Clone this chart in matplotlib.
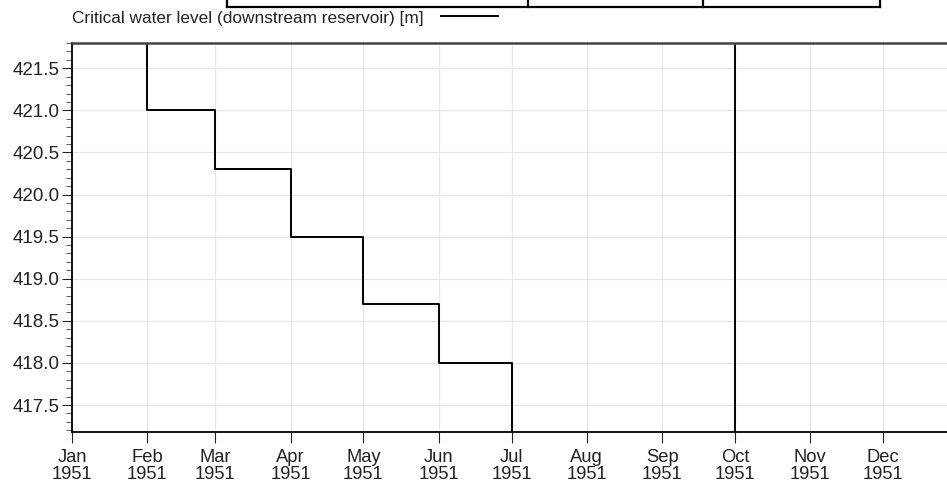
import numpy as np
import pandas as pd
import matplotlib
matplotlib.use("Agg")
import matplotlib.pyplot as plt
from matplotlib.lines import Line2D

plt.rcParams['font.family'] = ['Liberation Sans', 'DejaVu Sans']

# monthly critical water level, values outside the axis range run off the plot
months = ["1951-01-01", "1951-02-01", "1951-03-01", "1951-04-01", "1951-05-01", "1951-06-01",
          "1951-07-01", "1951-08-01", "1951-09-01", "1951-10-01", "1951-11-01", "1951-12-01",
          "1952-01-01"]
level = [422.0, 421.0, 420.3, 419.5, 418.7, 418.0,
         417.0, 417.0, 417.0, 422.0, 422.0, 422.0, 422.0]
month_labels = ["Jan\n1951", "Feb\n1951", "Mar\n1951", "Apr\n1951", "May\n1951", "Jun\n1951",
                "Jul\n1951", "Aug\n1951", "Sep\n1951", "Oct\n1951", "Nov\n1951", "Dec\n1951"]
y_ticks = [417.5, 418.0, 418.5, 419.0, 419.5, 420.0, 420.5, 421.0, 421.5]

dates = pd.to_datetime(months)

W, H = 947, 487
fig = plt.figure(figsize=(W / 100, H / 100), dpi=100)
ax = fig.add_axes([72 / W, 1 - 432 / H, 886.4 / W, (432 - 43) / H])

ax.plot(dates, level, drawstyle="steps-post", color="black", lw=1.4,
        label="Critical water level (downstream reservoir) [m]")

ax.set_xlim(dates[0], dates[-1])
ax.set_ylim(417.18, 421.78)

ax.set_xticks(dates[:-1])
ax.set_xticklabels(month_labels, fontsize=13.2, linespacing=1.05)
ax.set_yticks(y_ticks)
ax.set_yticklabels(["%.1f" % v for v in y_ticks], fontsize=13.5)
ax.set_yticks(np.arange(417.2, 421.8, 0.1), minor=True)

ax.tick_params(axis="x", direction="out", length=8, width=0.8, pad=4, colors="#222222")
ax.tick_params(axis="y", which="major", direction="out", length=7, width=0.8, pad=2, colors="#222222")
ax.tick_params(axis="y", which="minor", direction="out", length=4.5, width=0.6, color="#444444")

ax.grid(True, which="major", color="#e6e6e6", lw=0.8)
ax.set_axisbelow(True)

for s in ["left", "bottom"]:
    ax.spines[s].set_linewidth(1.3)
ax.spines["top"].set_linewidth(1.8)
ax.spines["top"].set_color("#444444")
ax.spines["right"].set_visible(False)

ax.legend(loc="center left", bbox_to_anchor=(72 / W, 1 - 18 / H),
          bbox_transform=fig.transFigure, frameon=False, markerfirst=False,
          fontsize=12.4, handlelength=3.3, handletextpad=1.0, borderpad=0,
          borderaxespad=0, labelcolor="#222222")

# fragment of the table box above the chart
def fig_line(xs, ys):
    fig.add_artist(Line2D([x / W for x in xs], [1 - y / H for y in ys],
                          color="black", lw=1.6, transform=fig.transFigure))

fig_line([227, 880], [7, 7])
for xv in [227, 528, 703, 880]:
    fig_line([xv, xv], [0, 7])

fig.savefig("out.png", dpi=100)
